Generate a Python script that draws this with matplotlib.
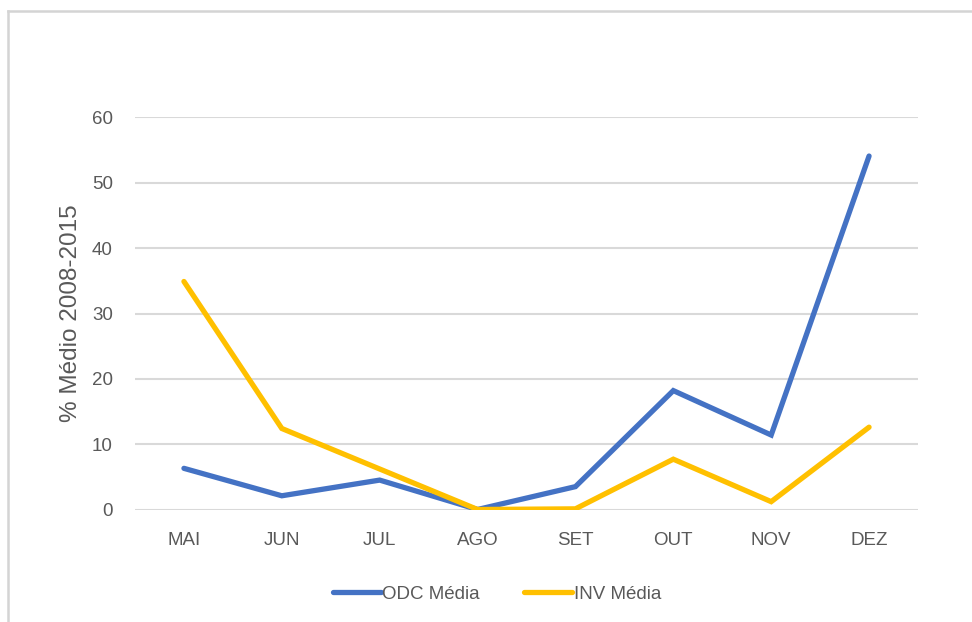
import matplotlib
matplotlib.use("Agg")
import matplotlib.pyplot as plt
from matplotlib.lines import Line2D

months = ["MAI", "JUN", "JUL", "AGO", "SET", "OUT", "NOV", "DEZ"]
odc_media = [6.3, 2.1, 4.5, 0.0, 3.5, 18.2, 11.4, 54.1]
inv_media = [34.9, 12.4, 6.2, 0.0, 0.1, 7.7, 1.2, 12.6]
yticks = [0, 10, 20, 30, 40, 50, 60]

plt.rcParams['font.family'] = ['Liberation Sans', 'DejaVu Sans']

W, H = 972, 622
fig = plt.figure(figsize=(W/100, H/100), dpi=100)
fig.patch.set_facecolor("white")
# chart-area border (top and left edges visible)
fig.add_artist(Line2D([8/W, 1.0], [1 - 10.5/H, 1 - 10.5/H], transform=fig.transFigure,
                      color="#D4D4D4", linewidth=1.8))
fig.add_artist(Line2D([8/W, 8/W], [0.0, 1 - 10.5/H], transform=fig.transFigure,
                      color="#D4D4D4", linewidth=1.8))

ax = fig.add_axes([135/W, 1 - 509.5/H, (918-135)/W, (509.5-117.5)/H])
x = list(range(len(months)))
ax.plot(x, odc_media, color="#4472C4", linewidth=3.8, solid_capstyle="round",
        solid_joinstyle="miter", label="ODC Média", zorder=3)
ax.plot(x, inv_media, color="#FFC000", linewidth=3.8, solid_capstyle="round",
        solid_joinstyle="miter", label="INV Média", zorder=3)

ax.set_xlim(-0.5, len(months) - 0.5)
ax.set_ylim(0, 60)
ax.set_yticks(yticks)
ax.set_xticks(x)
ax.set_xticklabels(months)
ax.yaxis.grid(True, color="#D9D9D9", linewidth=1.5)
ax.set_axisbelow(True)
for s in ax.spines.values():
    s.set_visible(False)
ax.tick_params(length=0, labelsize=13.5, colors="#595959")
ax.tick_params(axis="y", pad=16)
ax.tick_params(axis="x", pad=16)

fig.text(71/W, 1 - 313/H, "% Médio 2008-2015", rotation=90, fontsize=17.5,
         color="#595959", ha="center", va="center")

fig.legend(loc="center", bbox_to_anchor=(497/W, 1 - 594/H), ncol=2,
           frameon=False, fontsize=13.5, handlelength=2.55, handletextpad=0.1,
           columnspacing=2.35, labelcolor="#595959")

fig.savefig("out.png", dpi=100, facecolor="white")
